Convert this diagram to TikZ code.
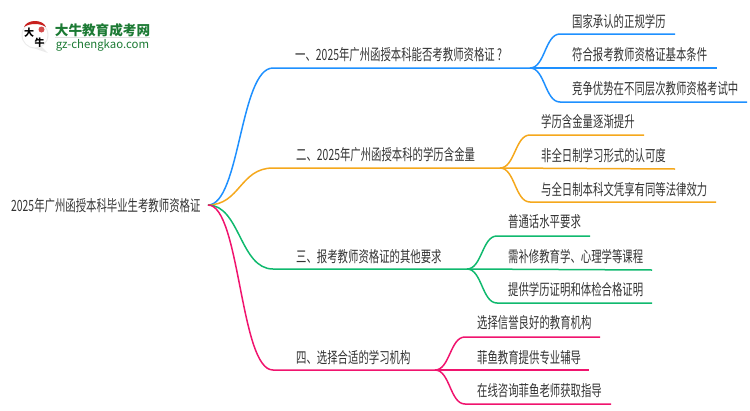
\documentclass[tikz,border=0pt]{standalone}
\usepackage{fontspec}
\setmainfont[FakeStretch=0.67]{Noto Sans CJK SC}
\newfontfamily\logofont{Noto Sans CJK SC}
\definecolor{txtgray}{HTML}{333333}
\definecolor{bluebr}{HTML}{1E90FF}
\definecolor{orangebr}{HTML}{F5A81C}
\definecolor{greenbr}{HTML}{10B96E}
\definecolor{pinkbr}{HTML}{F0146E}
\definecolor{logogreen}{HTML}{1C7A34}
\definecolor{logored}{HTML}{C8201E}
\tikzset{
    lbl/.style={anchor=west, inner sep=0pt, text=txtgray, font=\fontsize{15.5}{17}\selectfont},
    bluel/.style={draw=bluebr, line width=1.5pt},
    orangel/.style={draw=orangebr, line width=1.5pt},
    greenl/.style={draw=greenbr, line width=1.5pt},
    pinkl/.style={draw=pinkbr, line width=1.5pt},
    logotxt/.style={inner sep=0pt, text=logogreen}
}
\begin{document}
\begin{tikzpicture}[x=1pt,y=-1pt]
    \useasboundingbox (0,0) rectangle (750,410);
    % logo
    \fill[black!8] (35,35) circle (13.5) (41,46) -- (48,53) -- (33,48) -- cycle;
    \fill[white] (35,35) circle (12.5);
    \fill[logored] (24,27) .. controls (27,19) and (43,19) .. (46,27) .. controls (40,23) and (30,23) .. (24,27) -- cycle;
    \fill[logored!80] (41.5,29.5) circle (3);
    \draw (29,33) node[inner sep=0pt, font=\logofont\bfseries\fontsize{10}{10}\selectfont](da){大};
    \draw (39.5,43) node[inner sep=0pt, font=\logofont\bfseries\fontsize{10}{10}\selectfont](niu){牛};
    \draw (102.5,30) node[logotxt, font=\logofont\bfseries\fontsize{13.6}{14}\selectfont](brand){大牛教育成考网};
    \draw (102.5,45) node[logotxt, font=\logofont\fontsize{11.4}{12}\selectfont](site){gz-chengkao.com};
    \draw[black!12, line width=.6pt] (brand.south west) -- (brand.south east);
    % root
    \draw (11,206) node[lbl](root){2025年广州函授本科毕业生考教师资格证};
    \coordinate (hub) at (208,205);
    % branch labels
    \draw (295,55) node[lbl](one){一、2025年广州函授本科能否考教师资格证 ?};
    \draw (296,155) node[lbl](two){二、2025年广州函授本科的学历含金量};
    \draw (296,257) node[lbl](three){三、报考教师资格证的其他要求};
    \draw (296,358) node[lbl](four){四、选择合适的学习机构};
    % leaves
    \draw (572,22) node[lbl](a1){国家承认的正规学历};
    \draw (572,55) node[lbl](a2){符合报考教师资格证基本条件};
    \draw (572,89) node[lbl](a3){竞争优势在不同层次教师资格考试中};
    \draw (541,122) node[lbl](b1){学历含金量逐渐提升};
    \draw (541,156) node[lbl](b2){非全日制学习形式的认可度};
    \draw (541,190) node[lbl](b3){与全日制本科文凭享有同等法律效力};
    \draw (508,222) node[lbl](c1){普通话水平要求};
    \draw (508,257) node[lbl](c2){需补修教育学、心理学等课程};
    \draw (508,290) node[lbl](c3){提供学历证明和体检合格证明};
    \draw (477,323) node[lbl](d1){选择信誉良好的教育机构};
    \draw (477,358) node[lbl](d2){菲鱼教育提供专业辅导};
    \draw (477,391) node[lbl](d3){在线咨询菲鱼老师获取指导};
    % branch ends
    \coordinate (ones) at (273,68);
    \coordinate (onee) at (530,68);
    \coordinate (twos) at (273,168);
    \coordinate (twoe) at (500,168);
    \coordinate (threes) at (273,269);
    \coordinate (threee) at (467,269);
    \coordinate (fours) at (273,370);
    \coordinate (foure) at (435,370);
    % leaf lines
    \coordinate (a1s) at (560,34);
    \coordinate (a1e) at (675,34);
    \coordinate (a2e) at (717,68);
    \coordinate (a3s) at (560,102);
    \coordinate (a3e) at (747,102);
    \coordinate (b1s) at (530,135);
    \coordinate (b1e) at (644,135);
    \coordinate (b2e) at (675,169);
    \coordinate (b3s) at (530,202);
    \coordinate (b3e) at (716,202);
    \coordinate (c1s) at (497,236);
    \coordinate (c1e) at (590,236);
    \coordinate (c2e) at (652,270);
    \coordinate (c3s) at (497,303);
    \coordinate (c3e) at (652,303);
    \coordinate (d1s) at (465,337);
    \coordinate (d1e) at (600,337);
    \coordinate (d2e) at (589,370);
    \coordinate (d3s) at (465,404);
    \coordinate (d3e) at (611,404);
    % connectors
    \draw[bluel] (hub) .. controls (240,205) and (240,68) .. (ones) -- (onee);
    \draw[orangel] (hub) .. controls (240,205) and (240,168) .. (twos) -- (twoe);
    \draw[greenl] (hub) .. controls (240,205) and (240,269) .. (threes) -- (threee);
    \draw[pinkl] (hub) .. controls (240,205) and (240,370) .. (fours) -- (foure);
    \draw[bluel] (onee) .. controls (545,68) and (545,34) .. (a1s) -- (a1e);
    \draw[bluel] (onee) -- (a2e);
    \draw[bluel] (onee) .. controls (545,68) and (545,102) .. (a3s) -- (a3e);
    \draw[orangel] (twoe) .. controls (515,168) and (515,135) .. (b1s) -- (b1e);
    \draw[orangel] (twoe) -- (b2e);
    \draw[orangel] (twoe) .. controls (515,168) and (515,202) .. (b3s) -- (b3e);
    \draw[greenl] (threee) .. controls (482,269) and (482,236) .. (c1s) -- (c1e);
    \draw[greenl] (threee) -- (c2e);
    \draw[greenl] (threee) .. controls (482,269) and (482,303) .. (c3s) -- (c3e);
    \draw[pinkl] (foure) .. controls (450,370) and (450,337) .. (d1s) -- (d1e);
    \draw[pinkl] (foure) -- (d2e);
    \draw[pinkl] (foure) .. controls (450,370) and (450,404) .. (d3s) -- (d3e);
\end{tikzpicture}
\end{document}
